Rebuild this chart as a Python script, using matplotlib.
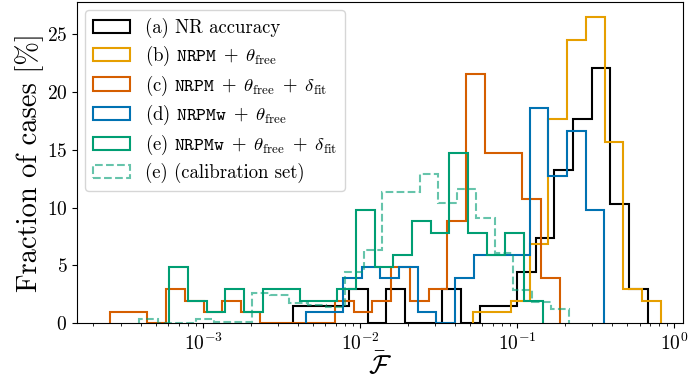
import numpy as np
import matplotlib
matplotlib.use("Agg")
import matplotlib.pyplot as plt

plt.rcParams['font.family'] = 'serif'
plt.rcParams['font.serif'] = ['cmr10']
plt.rcParams['mathtext.fontset'] = 'cm'
plt.rcParams['axes.unicode_minus'] = False
plt.rcParams['axes.formatter.use_mathtext'] = True

# log10 of the first bin edge, bin width (dex) and counts per series
a_start, a_width, a_total = -2.427, 0.1188, 68
a_counts = [1, 1, 1, 2, 0, 2, 0, 0, 2, 0, 1, 1, 3, 5, 9, 12, 15, 7, 2]

b_start, b_width, b_total = -1.280, 0.1194, 102
b_counts = [1, 1, 2, 7, 18, 25, 27, 16, 3, 2]

c_start, c_width, c_total = -3.594, 0.1194, 102
c_counts = [1, 1, 0, 3, 2, 1, 2, 1, 0, 0, 0, 0, 2, 1, 2, 5, 2, 3, 9, 22, 15, 15, 11, 4]

d_start, d_width, d_total = -2.348, 0.1189, 102
d_counts = [1, 1, 4, 5, 4, 5, 1, 0, 4, 6, 6, 6, 19, 13, 17, 10]

e_start, e_width, e_total = -3.217, 0.1189, 102
e_counts = [5, 2, 1, 3, 1, 3, 3, 2, 2, 3, 10, 5, 6, 9, 8, 15, 8, 6, 8, 2]

# calibration set, already in percent
cal_start, cal_width = -3.406, 0.1190
cal_percent = [0.35, 0, 0, 0.35, 0.14, 0.14, 2.65, 2.45, 1.73, 1.6, 1.45, 4.4,
               6.34, 11.33, 11.4, 12.94, 10.43, 11.62, 9.14, 6.05, 2.88, 1.8, 1.2]

labels = [
    r'(a) NR accuracy',
    r'(b) $\mathtt{NRPM}\;+\;\theta_{\mathrm{free}}$',
    r'(c) $\mathtt{NRPM}\;+\;\theta_{\mathrm{free}}\;+\;\delta_{\mathrm{fit}}$',
    r'(d) $\mathtt{NRPMw}\;+\;\theta_{\mathrm{free}}$',
    r'(e) $\mathtt{NRPMw}\;+\;\theta_{\mathrm{free}}\;+\;\delta_{\mathrm{fit}}$',
    r'(e) (calibration set)',
]
colors = ['black', '#E69F00', '#D55E00', '#0072B2', '#009E73', '#009E73']


def step_hist(ax, start, width, values, **kw):
    edges = 10 ** (start + width * np.arange(len(values) + 1))
    centers = np.sqrt(edges[:-1] * edges[1:])
    ax.hist(centers, bins=edges, weights=values, histtype='step', **kw)


fig = plt.figure(figsize=(6.88, 3.85), dpi=100)
ax = fig.add_axes([0.1119, 0.1603, 0.8808, 0.8345])

series = [
    (a_start, a_width, np.array(a_counts) / a_total * 100),
    (b_start, b_width, np.array(b_counts) / b_total * 100),
    (c_start, c_width, np.array(c_counts) / c_total * 100),
    (d_start, d_width, np.array(d_counts) / d_total * 100),
    (e_start, e_width, np.array(e_counts) / e_total * 100),
]
for i, (s, w, v) in enumerate(series):
    step_hist(ax, s, w, v, color=colors[i], lw=1.5, label=labels[i])
step_hist(ax, cal_start, cal_width, cal_percent, color=colors[5], lw=1.5,
          ls='--', alpha=0.6, label=labels[5])

ax.set_xscale('log')
ax.set_xlim(10 ** -3.804, 10 ** 0.055)
ax.set_ylim(0, 27.8)
ax.set_yticks([0, 5, 10, 15, 20, 25])
ax.tick_params(labelsize=14)
ax.set_xlabel(r'$\bar{\mathcal{F}}$', fontsize=19, labelpad=-2)
ax.set_ylabel('Fraction of cases [%]', fontsize=20.5, labelpad=2)
ax.legend(loc='upper left', fontsize=13.5, labelspacing=0.3,
          borderaxespad=0.45)

fig.savefig('out.png', dpi=100)
